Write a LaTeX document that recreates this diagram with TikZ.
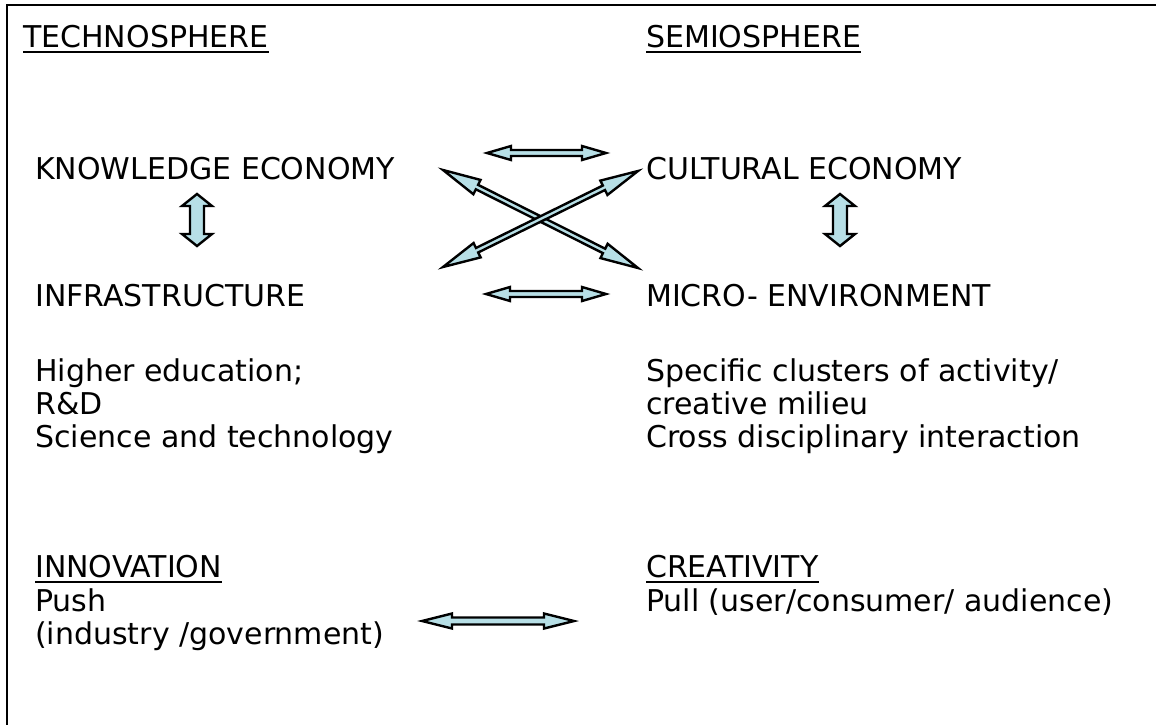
\documentclass[tikz,border=0pt]{standalone}
\usepackage{fontspec}
\setmainfont{DejaVu Sans}[FakeStretch=1.0]
\usetikzlibrary{calc}
\definecolor{arrowfill}{HTML}{B7DFE6}
\tikzset{
  lbl/.style={anchor=base west, inner sep=0pt, font=\fontsize{30}{36}\selectfont},
  uline/.style={line width=2pt},
  barrow/.style={draw=black, fill=arrowfill, line width=2.4pt, line join=miter, miter limit=20},
  frame/.style={line width=2pt}
}
% Double-headed block arrow from #1 to #2:
% #3 head length, #4 half head width, #5 half shaft width
\newcommand\blockarrow[5]{%
  \draw[barrow] (#1)
    -- ($(#1)!#3!(#2)!#4!90:(#2)$)
    -- ($(#1)!#3!(#2)!#5!90:(#2)$)
    -- ($(#2)!#3!(#1)!#5!-90:(#1)$)
    -- ($(#2)!#3!(#1)!#4!-90:(#1)$)
    -- (#2)
    -- ($(#2)!#3!(#1)!#4!90:(#1)$)
    -- ($(#2)!#3!(#1)!#5!90:(#1)$)
    -- ($(#1)!#3!(#2)!#5!-90:(#2)$)
    -- ($(#1)!#3!(#2)!#4!-90:(#2)$)
    -- cycle;}
\begin{document}
\begin{tikzpicture}[x=1pt,y=-1pt]
\useasboundingbox (0,0) rectangle (1156,724);
\begin{scope}
  \clip (0,0) rectangle (1156,724);
  \draw[frame] (7,5) rectangle (1170,740);
\end{scope}

% left column
\node[lbl] (tech)   at (23,47)  {TECHNOSPHERE};
\node[lbl] (know)   at (35,179) {KNOWLEDGE ECONOMY};
\node[lbl] (infra)  at (35,306) {INFRASTRUCTURE};
\node[lbl] (higher) at (35,381) {Higher education;};
\node[lbl] (rd)     at (35,414) {R\&D};
\node[lbl] (sci)    at (35,447) {Science and technology};
\node[lbl] (innov)  at (35,577) {INNOVATION};
\node[lbl] (push)   at (35,611) {Push};
\node[lbl] (indgov) at (35,644) {(industry /government)};

% right column
\node[lbl] (semio)  at (646,47)  {SEMIOSPHERE};
\node[lbl] (cult)   at (646,179) {CULTURAL ECONOMY};
\node[lbl] (micro)  at (646,306) {MICRO- ENVIRONMENT};
\node[lbl] (spec)   at (646,381) {Specific clusters of activity/};
\node[lbl] (milieu) at (646,414) {creative milieu};
\node[lbl] (cross)  at (646,447) {Cross disciplinary interaction};
\node[lbl] (creat)  at (646,577) {CREATIVITY};
\node[lbl] (pull)   at (646,611) {Pull (user/consumer/ audience)};

% underlined headings
\foreach \n in {tech,semio,innov,creat}
  \draw[uline] ([yshift=-5pt]\n.base west) -- ([yshift=-5pt]\n.base east);

% arrow end points
\coordinate (ht1) at (487,153); \coordinate (ht2) at (606,153);
\coordinate (hb1) at (486,294); \coordinate (hb2) at (606,294);
\coordinate (xa1) at (443,170); \coordinate (xa2) at (638,268);
\coordinate (xb1) at (443,267); \coordinate (xb2) at (638,171);
\coordinate (vl1) at (197,194); \coordinate (vl2) at (197,246);
\coordinate (vr1) at (840,194); \coordinate (vr2) at (840,246);
\coordinate (bt1) at (422,621); \coordinate (bt2) at (574,621);

\blockarrow{ht1}{ht2}{24pt}{7pt}{3pt}
\blockarrow{hb1}{hb2}{24pt}{7pt}{3pt}
\blockarrow{xa1}{xa2}{38pt}{8pt}{2.5pt}
\blockarrow{xb1}{xb2}{38pt}{8pt}{2.5pt}
\blockarrow{vl1}{vl2}{12pt}{15pt}{7pt}
\blockarrow{vr1}{vr2}{12pt}{15pt}{7pt}
\blockarrow{bt1}{bt2}{30pt}{7.5pt}{3.5pt}
\end{tikzpicture}
\end{document}
